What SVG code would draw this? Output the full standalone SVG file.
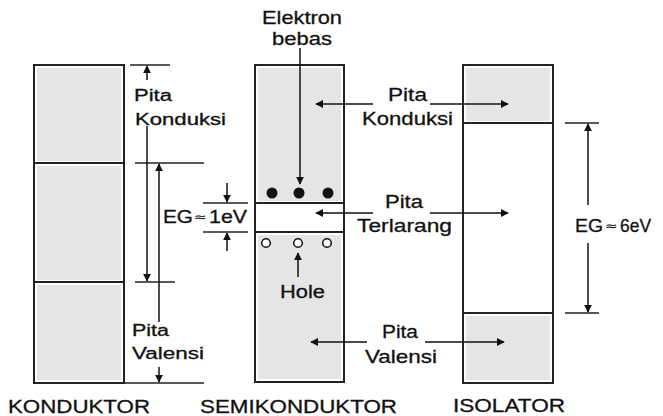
<svg xmlns="http://www.w3.org/2000/svg" width="663" height="416" viewBox="0 0 663 416">
<defs>
<marker id="ah" viewBox="0 0 10 10" refX="9" refY="5" markerWidth="8" markerHeight="8" markerUnits="userSpaceOnUse" orient="auto">
<path d="M0,0 L10,5 L0,10 z" fill="#111"/>
</marker>
<style>
.box{fill:#fff;stroke:#222;stroke-width:2}
.band{fill:#e5e5e5;stroke:none}
.div{stroke:#222;stroke-width:2}
.tick{stroke:#222;stroke-width:1.5}
.arr{stroke:#111;stroke-width:1.5;fill:none;marker-end:url(#ah)}
text{font-family:"Liberation Sans",Arial,sans-serif;fill:#111;stroke:#111;stroke-width:0.3}
.s16{font-size:16px}
.s18{font-size:18px}
.s19{font-size:19px}
.sm{font-size:11px}
</style>
</defs>
<rect width="663" height="416" fill="#fff"/>

<g id="konduktor">
<rect class="box" x="34" y="65" width="90" height="318"/>
<rect class="band" x="37" y="68" width="84" height="93"/>
<rect class="band" x="37" y="166" width="84" height="114"/>
<rect class="band" x="37" y="285" width="84" height="95"/>
<line class="div" x1="34" y1="163" x2="124" y2="163"/>
<line class="div" x1="34" y1="282" x2="124" y2="282"/>
<text class="s18" x="8" y="413" textLength="142" lengthAdjust="spacingAndGlyphs">KONDUKTOR</text>
</g>

<g id="semikonduktor">
<rect class="box" x="255" y="65" width="89" height="317"/>
<rect class="band" x="258" y="68" width="83" height="133"/>
<rect class="band" x="258" y="235" width="83" height="144"/>
<line class="div" x1="255" y1="203" x2="344" y2="203"/>
<line class="div" x1="255" y1="232" x2="344" y2="232"/>
<circle cx="272" cy="193" r="5.5" fill="#111"/>
<circle cx="299" cy="193" r="5.5" fill="#111"/>
<circle cx="328" cy="193" r="5.5" fill="#111"/>
<circle cx="266" cy="243" r="4.3" fill="#fff" stroke="#111" stroke-width="1.5"/>
<circle cx="298" cy="243" r="4.3" fill="#fff" stroke="#111" stroke-width="1.5"/>
<circle cx="327" cy="243" r="4.3" fill="#fff" stroke="#111" stroke-width="1.5"/>
<text class="s18" x="200" y="413" textLength="197" lengthAdjust="spacingAndGlyphs">SEMIKONDUKTOR</text>
</g>

<g id="isolator">
<rect class="box" x="463" y="65" width="90" height="318"/>
<rect class="band" x="466" y="68" width="84" height="53"/>
<rect class="band" x="466" y="316" width="84" height="64"/>
<line class="div" x1="463" y1="123" x2="553" y2="123"/>
<line class="div" x1="463" y1="313" x2="553" y2="313" stroke="#555"/>
<text class="s18" x="453" y="412" textLength="112" lengthAdjust="spacingAndGlyphs">ISOLATOR</text>
</g>

<g id="label-konduktor-konduksi">
<text class="s16" x="134" y="101" textLength="38" lengthAdjust="spacingAndGlyphs">Pita</text>
<text class="s16" x="135" y="125" textLength="91" lengthAdjust="spacingAndGlyphs">Konduksi</text>
</g>
<g id="label-konduktor-valensi">
<text class="s16" x="132" y="336" textLength="37" lengthAdjust="spacingAndGlyphs">Pita</text>
<text class="s16" x="132" y="359" textLength="72" lengthAdjust="spacingAndGlyphs">Valensi</text>
</g>
<g id="label-elektron">
<text class="s19" x="262" y="24" textLength="80" lengthAdjust="spacingAndGlyphs">Elektron</text>
<text class="s19" x="272" y="45" textLength="60" lengthAdjust="spacingAndGlyphs">bebas</text>
</g>
<g id="label-hole">
<text class="s18" x="280" y="298" textLength="45" lengthAdjust="spacingAndGlyphs">Hole</text>
</g>
<g id="label-eg1">
<text class="s19" x="163" y="223" textLength="30" lengthAdjust="spacingAndGlyphs">EG</text>
<text class="sm" x="195" y="221" textLength="10" lengthAdjust="spacingAndGlyphs">≈</text>
<text class="s19" x="209" y="223" textLength="38" lengthAdjust="spacingAndGlyphs">1eV</text>
</g>
<g id="label-eg6">
<text class="s19" x="575" y="232" textLength="28" lengthAdjust="spacingAndGlyphs">EG</text>
<text class="sm" x="606" y="230" textLength="10" lengthAdjust="spacingAndGlyphs">≈</text>
<text class="s19" x="620" y="232" textLength="31" lengthAdjust="spacingAndGlyphs">6eV</text>
</g>
<g id="label-konduksi">
<text class="s19" x="388" y="101" textLength="39" lengthAdjust="spacingAndGlyphs">Pita</text>
<text class="s19" x="362" y="125" textLength="91" lengthAdjust="spacingAndGlyphs">Konduksi</text>
</g>
<g id="label-terlarang">
<text class="s19" x="385" y="208" textLength="38" lengthAdjust="spacingAndGlyphs">Pita</text>
<text class="s19" x="357" y="232" textLength="95" lengthAdjust="spacingAndGlyphs">Terlarang</text>
</g>
<g id="label-valensi">
<text class="s19" x="382" y="338" textLength="36" lengthAdjust="spacingAndGlyphs">Pita</text>
<text class="s19" x="365" y="363" textLength="72" lengthAdjust="spacingAndGlyphs">Valensi</text>
</g>

<g id="connectors">
<line class="tick" x1="130" y1="65" x2="170" y2="65"/>
<line class="tick" x1="135" y1="163" x2="204" y2="163"/>
<line class="tick" x1="135" y1="282" x2="175" y2="282"/>
<line class="tick" x1="124" y1="383" x2="204" y2="383"/>
<line class="tick" x1="203" y1="203" x2="248" y2="203"/>
<line class="tick" x1="203" y1="232" x2="248" y2="232"/>
<line class="tick" x1="565" y1="123" x2="599" y2="123"/>
<line class="tick" x1="565" y1="313" x2="599" y2="313"/>
<line class="arr" x1="147" y1="80" x2="147" y2="66"/>
<line class="arr" x1="147" y1="126" x2="147" y2="281"/>
<line class="arr" x1="159" y1="322" x2="159" y2="164"/>
<line class="arr" x1="159" y1="367" x2="159" y2="382"/>
<line class="arr" x1="227" y1="183" x2="227" y2="202"/>
<line class="arr" x1="227" y1="251" x2="227" y2="233"/>
<line class="arr" x1="588" y1="205" x2="588" y2="124"/>
<line class="arr" x1="588" y1="243" x2="588" y2="312"/>
<line class="arr" x1="300" y1="48" x2="300" y2="184"/>
<line class="arr" x1="298" y1="277" x2="298" y2="253"/>
<line class="arr" x1="373" y1="104" x2="316" y2="104"/>
<line class="arr" x1="430" y1="104" x2="508" y2="104"/>
<line class="arr" x1="373" y1="213" x2="316" y2="213"/>
<line class="arr" x1="430" y1="213" x2="508" y2="213"/>
<line class="arr" x1="367" y1="342" x2="311" y2="342"/>
<line class="arr" x1="425" y1="342" x2="504" y2="342"/>
</g>
</svg>
